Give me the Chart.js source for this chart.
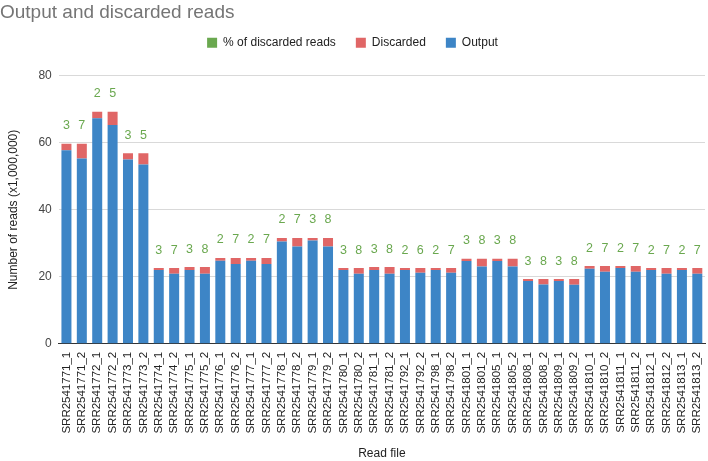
<!DOCTYPE html>
<html>
<head>
<meta charset="utf-8">
<script src="https://cdn.jsdelivr.net/npm/chart.js@4"></script>
<style>
  html, body { margin: 0; padding: 0; background: #fff; }
  #wrap { width: 708px; height: 461px; }
</style>
</head>
<body>
<div id="wrap"><canvas id="myChart" width="708" height="461"></canvas></div>
<script>
const runs = [
  '771', '772', '773', '774', '775', '776', '777', '778', '779', '780', '781',
  '792', '798', '801', '805', '808', '809', '810', '811', '812', '813',
];
const labels = runs.flatMap((r) => ['SRR2541' + r + '_1', 'SRR2541' + r + '_2']);

// millions of reads
const output = [
  57.8, 55.3, 67.3, 65.3, 55.0, 53.5, 22.0, 20.9, 22.0, 20.9, 24.8, 23.8,
  24.8, 23.8, 30.5, 29.0, 30.8, 29.0, 22.0, 20.9, 22.0, 20.9, 22.0, 21.2,
  22.0, 21.2, 24.7, 23.1, 24.7, 23.1, 18.7, 17.7, 18.7, 17.6, 22.4, 21.5,
  22.6, 21.5, 22.0, 20.9, 22.0, 20.9,
];
const discarded = [
  1.9, 4.4, 2.0, 4.0, 1.9, 3.4, 0.6, 1.7, 0.9, 2.0, 0.8, 1.8,
  0.8, 1.8, 1.1, 2.6, 0.8, 2.6, 0.6, 1.7, 0.9, 2.0, 0.6, 1.4,
  0.6, 1.4, 0.7, 2.3, 0.7, 2.3, 0.6, 1.6, 0.6, 1.7, 0.8, 1.7,
  0.6, 1.7, 0.6, 1.7, 0.6, 1.7,
];
const pctDiscarded = [
  3, 7, 2, 5, 3, 5, 3, 7, 3, 8, 2, 7, 2, 7, 2, 7, 3, 8, 3, 8, 3, 8,
  2, 6, 2, 7, 3, 8, 3, 8, 3, 8, 3, 8, 2, 7, 2, 7, 2, 7, 2, 7,
];
const yTicks = [0, 20, 40, 60, 80];

const blue = '#3d85c6';
const red = '#e06666';
const green = '#6aa84f';

// writes the % numbers above each stacked bar
const pctLabels = {
  id: 'pctLabels',
  afterDatasetsDraw(chart) {
    const { ctx, scales } = chart;
    ctx.save();
    ctx.fillStyle = green;
    ctx.font = '12.5px "Liberation Sans", Arial, sans-serif';
    ctx.textAlign = 'center';
    ctx.textBaseline = 'middle';
    pctDiscarded.forEach((p, i) => {
      const x = scales.x.getPixelForValue(i);
      const y = scales.y.getPixelForValue(output[i] + discarded[i]);
      ctx.fillText(String(p), x, y - 18);
    });
    ctx.restore();
  },
};

// more room between legend and plot
const legendGap = {
  id: 'legendGap',
  beforeInit(chart) {
    const fit = chart.legend.fit;
    chart.legend.fit = function () {
      fit.bind(chart.legend)();
      this.height += 17;
    };
  },
};

Chart.defaults.font.family = '"Liberation Sans", Arial, sans-serif';
Chart.defaults.color = '#444';

const chart = new Chart(document.querySelector('#myChart'), {
  type: 'bar',
  data: {
    labels: labels,
    datasets: [
      {
        label: 'Output',
        data: output,
        backgroundColor: blue,
        barPercentage: 0.65,
        categoryPercentage: 1,
      },
      {
        label: 'Discarded',
        data: discarded,
        backgroundColor: red,
        barPercentage: 0.65,
        categoryPercentage: 1,
      },
      {
        type: 'line',
        label: '% of discarded reads',
        data: pctDiscarded,
        yAxisID: 'pct',
        backgroundColor: green,
        borderColor: green,
        borderWidth: 0,
        showLine: false,
        pointRadius: 0,
      },
    ],
  },
  plugins: [pctLabels, legendGap],
  options: {
    responsive: false,
    animation: false,
    layout: { padding: { left: 0, right: 3, top: 1, bottom: 0 } },
    plugins: {
      tooltip: { enabled: false },
      title: {
        display: true,
        text: 'Output and discarded reads',
        align: 'start',
        color: '#757575',
        font: { size: 19, weight: 'normal' },
        padding: { top: 0, bottom: -7 },
      },
      legend: {
        reverse: true,
        labels: {
          boxWidth: 10,
          boxHeight: 10,
          font: { size: 12 },
          color: '#222',
          padding: 20,
        },
      },
    },
    scales: {
      x: {
        stacked: true,
        grid: { display: false, drawTicks: false },
        border: { color: '#333' },
        afterFit: (scale) => {
          scale.paddingLeft = 0;
          scale.paddingRight = 0;
        },
        ticks: {
          autoSkip: false,
          maxRotation: 90,
          minRotation: 90,
          padding: 8,
          color: '#222',
          font: { size: 11.5 },
        },
        title: {
          display: true,
          text: 'Read file',
          color: '#222',
          font: { size: 12 },
          padding: { top: 5, bottom: 0 },
        },
      },
      y: {
        stacked: true,
        min: 0,
        max: 80,
        afterBuildTicks: (axis) => {
          axis.ticks = yTicks.map((v) => ({ value: v }));
        },
        grid: { color: '#d9d9d9', drawTicks: false },
        border: { display: false },
        ticks: { color: '#444', font: { size: 12 }, padding: 7 },
        title: {
          display: true,
          text: 'Number of reads (x1,000,000)',
          color: '#222',
          font: { size: 12 },
          padding: { top: 6, bottom: 11 },
        },
      },
      pct: { display: false, min: 0, max: 100 },
    },
  },
});
</script>
</body>
</html>
